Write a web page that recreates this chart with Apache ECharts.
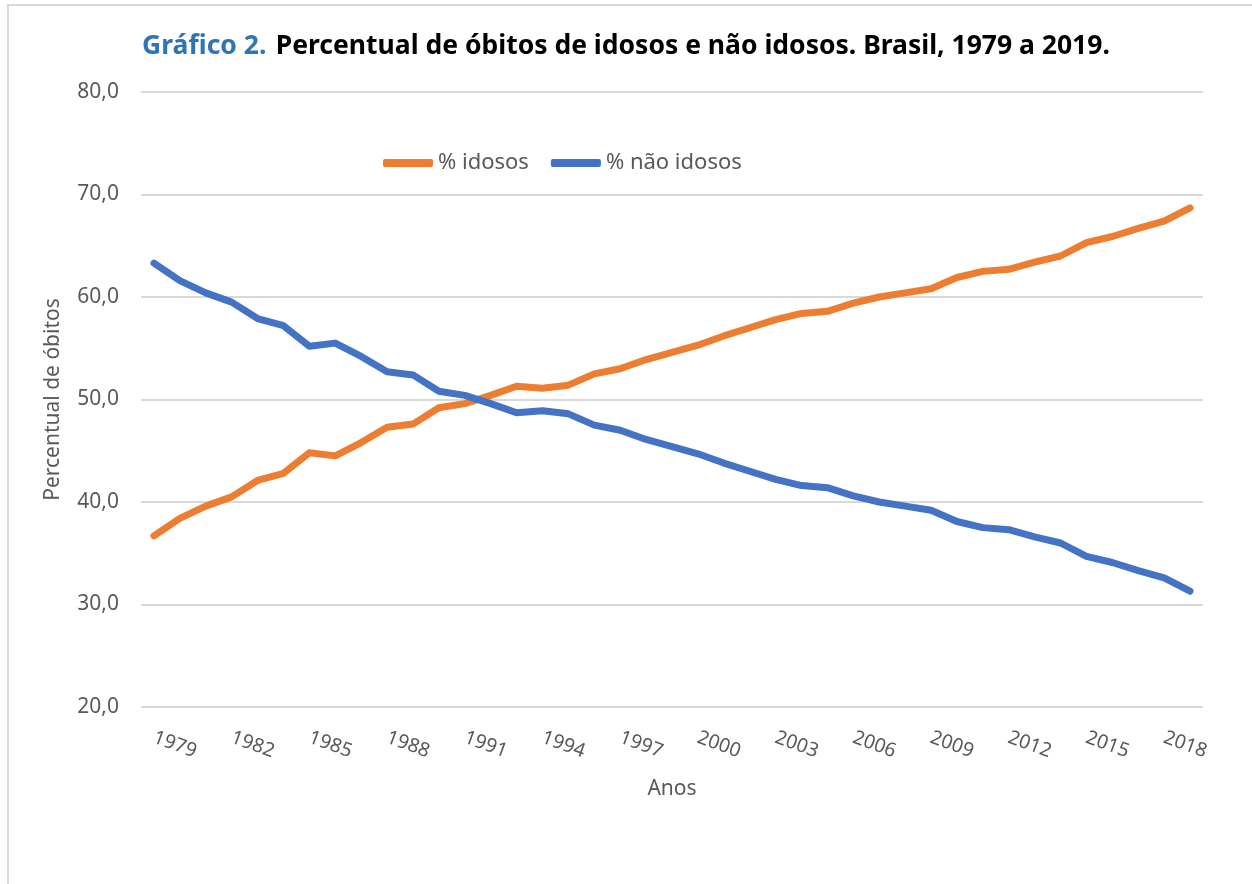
<!DOCTYPE html>
<html>
<head>
<meta charset="utf-8">
<script src="https://cdn.jsdelivr.net/npm/echarts@6/dist/echarts.min.js"></script>
<style>
  html, body { margin: 0; padding: 0; background: #fff; }
  #chart { width: 1252px; height: 884px; }
</style>
</head>
<body>
<div id="chart"></div>
<script>
  // anos 1979 a 2019
  var anos = []
  for (var a = 1979; a <= 2019; a++) anos.push(String(a))

  var idosos = [36.7, 38.4, 39.6, 40.5, 42.1, 42.8, 44.8, 44.5, 45.8, 47.3,
    47.6, 49.2, 49.6, 50.4, 51.3, 51.1, 51.4, 52.5, 53.0, 53.9,
    54.6, 55.3, 56.2, 57.0, 57.8, 58.4, 58.6, 59.4, 60.0, 60.4,
    60.8, 61.9, 62.5, 62.7, 63.4, 64.0, 65.3, 65.9, 66.7, 67.4, 68.7]

  var naoIdosos = [63.3, 61.6, 60.4, 59.5, 57.9, 57.2, 55.2, 55.5, 54.2, 52.7,
    52.4, 50.8, 50.4, 49.6, 48.7, 48.9, 48.6, 47.5, 47.0, 46.1,
    45.4, 44.7, 43.8, 43.0, 42.2, 41.6, 41.4, 40.6, 40.0, 39.6,
    39.2, 38.1, 37.5, 37.3, 36.6, 36.0, 34.7, 34.1, 33.3, 32.6, 31.3]

  var font = 'Noto Sans'
  var cinza = '#595959'

  var chart = echarts.init(document.getElementById('chart'))
  var option = {
    textStyle: { fontFamily: font },
    graphic: [
      {
        type: 'rect',
        shape: { x: 8, y: 5, width: 1400, height: 1000 },
        style: { fill: 'none', stroke: '#d9d9d9', lineWidth: 2 },
      },
    ],
    title: {
      left: 'center',
      top: 28,
      text: '{a|Gráfico 2.}  {b|Percentual de óbitos de idosos e não idosos. Brasil, 1979 a 2019.}',
      textStyle: {
        rich: {
          a: { fontFamily: font, fontSize: 26.5, fontWeight: 'bold', color: '#2E75B6' },
          b: { fontFamily: font, fontSize: 26.5, fontWeight: 'bold', color: '#000' },
        },
      },
    },
    legend: {
      left: 378,
      top: 147,
      icon: 'roundRect',
      itemWidth: 50,
      itemHeight: 8,
      itemGap: 22,
      textStyle: { fontFamily: font, fontSize: 22, color: cinza },
      data: ['% idosos', '% não idosos'],
    },
    grid: {
      left: 141,
      right: 49,
      top: 92,
      bottom: 177,
    },
    xAxis: {
      type: 'category',
      data: anos,
      boundaryGap: true,
      name: 'Anos',
      nameLocation: 'middle',
      nameGap: 72,
      nameTextStyle: { fontFamily: font, fontSize: 21, color: cinza },
      axisLine: { show: false },
      axisTick: { show: false },
      axisLabel: {
        interval: 2,
        rotate: -20,
        margin: 30,
        fontFamily: font,
        fontSize: 19.5,
        color: cinza,
      },
    },
    yAxis: {
      type: 'value',
      min: 20,
      max: 80,
      interval: 10,
      name: 'Percentual de óbitos',
      nameLocation: 'middle',
      nameGap: 77,
      nameTextStyle: { fontFamily: font, fontSize: 21, color: cinza },
      axisLine: { show: false },
      axisTick: { show: false },
      axisLabel: {
        margin: 22,
        fontFamily: font,
        fontSize: 21,
        color: cinza,
        formatter: function (v) {
          return v.toFixed(1).replace('.', ',')
        },
      },
      splitLine: { lineStyle: { color: '#d9d9d9', width: 2 } },
    },
    series: [
      {
        name: '% idosos',
        type: 'line',
        data: idosos,
        showSymbol: false,
        color: '#ED7D31',
        lineStyle: { width: 7, cap: 'round', join: 'round' },
      },
      {
        name: '% não idosos',
        type: 'line',
        data: naoIdosos,
        showSymbol: false,
        color: '#4472C4',
        lineStyle: { width: 7, cap: 'round', join: 'round' },
      },
    ],
  }
  chart.setOption(option)
</script>
</body>
</html>
